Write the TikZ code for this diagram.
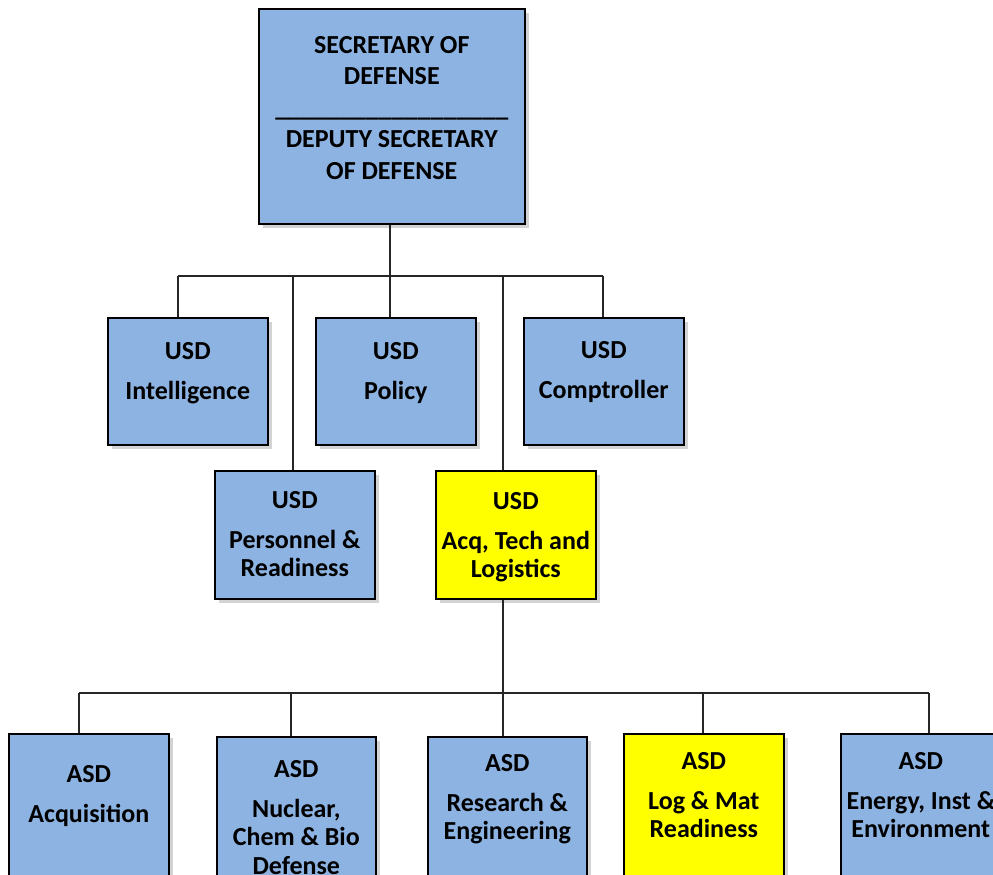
\documentclass[tikz,border=0pt]{standalone}
\usepackage{fontspec}
\setmainfont{Carlito}
\usetikzlibrary{positioning,shadows,calc}

\definecolor{boxblue}{RGB}{141,179,226}
\definecolor{boxyellow}{RGB}{255,255,0}

\tikzset{
    box/.style={draw=black, line width=1.6pt, fill=boxblue, anchor=north west,
        inner sep=0pt, minimum width=160pt, minimum height=127pt,
        drop shadow={shadow xshift=4pt, shadow yshift=-4pt, opacity=0.35}},
    hotbox/.style={box, fill=boxyellow},
    lbl/.style={anchor=north, align=center, inner sep=0pt,
        font=\bfseries\fontsize{26}{28.5}\selectfont},
    toplbl/.style={lbl, font=\bfseries\fontsize{26}{31.5}\selectfont},
    wire/.style={line width=1.2pt, black!85},
    mainwire/.style={line width=1.8pt, black!85},
}

\begin{document}
\begin{tikzpicture}[x=1pt,y=-1pt]
\useasboundingbox (0,0) rectangle (993,875);
\clip (0,0) rectangle (993,875);

% secretary
\node[box, minimum width=266pt, minimum height=215pt] (sec) at (258,8) {};
\node[toplbl] (sect) at ([yshift=-28pt]sec.north)
    {SECRETARY OF\\DEFENSE\\\_\_\_\_\_\_\_\_\_\_\_\_\_\_\_\_\_\_\\DEPUTY SECRETARY\\OF DEFENSE};

% under secretaries
\node[box] (intel) at (107,317) {};
\node[box] (policy) at (315,317) {};
\node[box] (compt) at (523,317) {};
\node[box, minimum height=128pt] (pers) at (214,470) {};
\node[hotbox, minimum height=128pt] (atl) at (435,470) {};

\node[lbl] (intelt) at ([yshift=-25pt]intel.north) {USD\\[11.5pt]Intelligence};
\node[lbl] (policyt) at ([yshift=-25pt]policy.north) {USD\\[11.5pt]Policy};
\node[lbl] (comptt) at ([yshift=-24pt]compt.north) {USD\\[11.5pt]Comptroller};
\node[lbl] (perst) at ([yshift=-21pt]pers.north) {USD\\[11.5pt]Personnel \&\\Readiness};
\node[lbl] (atlt) at ([yshift=-22pt]atl.north) {USD\\[11.5pt]Acq, Tech and\\Logistics};

% assistant secretaries
\node[box, minimum height=200pt] (acqn) at (8,733) {};
\node[box, minimum width=159pt, minimum height=200pt] (ncb) at (216,736) {};
\node[box, minimum width=159pt, minimum height=200pt] (rne) at (427,736) {};
\node[hotbox, minimum height=200pt] (lmr) at (623,733) {};
\node[box, minimum height=200pt] (eie) at (840,733) {};

\node[lbl] (acqnt) at ([yshift=-32pt]acqn.north) {ASD\\[11.5pt]Acquisition};
\node[lbl] (ncbt) at ([yshift=-24pt]ncb.north) {ASD\\[11.5pt]Nuclear,\\Chem \& Bio\\Defense};
\node[lbl] (rnet) at ([yshift=-18pt]rne.north) {ASD\\[11.5pt]Research \&\\Engineering};
\node[lbl] (lmrt) at ([yshift=-19pt]lmr.north) {ASD\\[11.5pt]Log \& Mat\\Readiness};
\node[lbl] (eiet) at ([yshift=-19pt]eie.north) {ASD\\[11.5pt]Energy, Inst \&\\Environment};

% connectors
\coordinate (bar) at (390,276);
\coordinate (barl) at (178,276);
\coordinate (barr) at (603,276);
\coordinate (bp) at (293,276);
\coordinate (ba) at (503,276);
\draw[wire] (sec.south -| bar) -- (bar);
\draw[mainwire] (barl) -- (barr);
\draw[wire] (barl) -- (barl |- intel.north);
\draw[wire] (bar) -- (bar |- policy.north);
\draw[wire] (barr) -- (barr |- compt.north);
\draw[wire] (bp) -- (bp |- pers.north);
\draw[wire] (ba) -- (ba |- atl.north);

\coordinate (low) at (503,693);
\coordinate (lowl) at (79,693);
\coordinate (lown) at (291,693);
\coordinate (lowg) at (703,693);
\coordinate (lowr) at (929,693);
\draw[wire] (atl.south -| low) -- (low);
\draw[wire] (lowl) -- (lowr);
\draw[wire] (lowl) -- (lowl |- acqn.north);
\draw[wire] (lown) -- (lown |- ncb.north);
\draw[wire] (low) -- (low |- rne.north);
\draw[wire] (lowg) -- (lowg |- lmr.north);
\draw[wire] (lowr) -- (lowr |- eie.north);
\end{tikzpicture}
\end{document}
